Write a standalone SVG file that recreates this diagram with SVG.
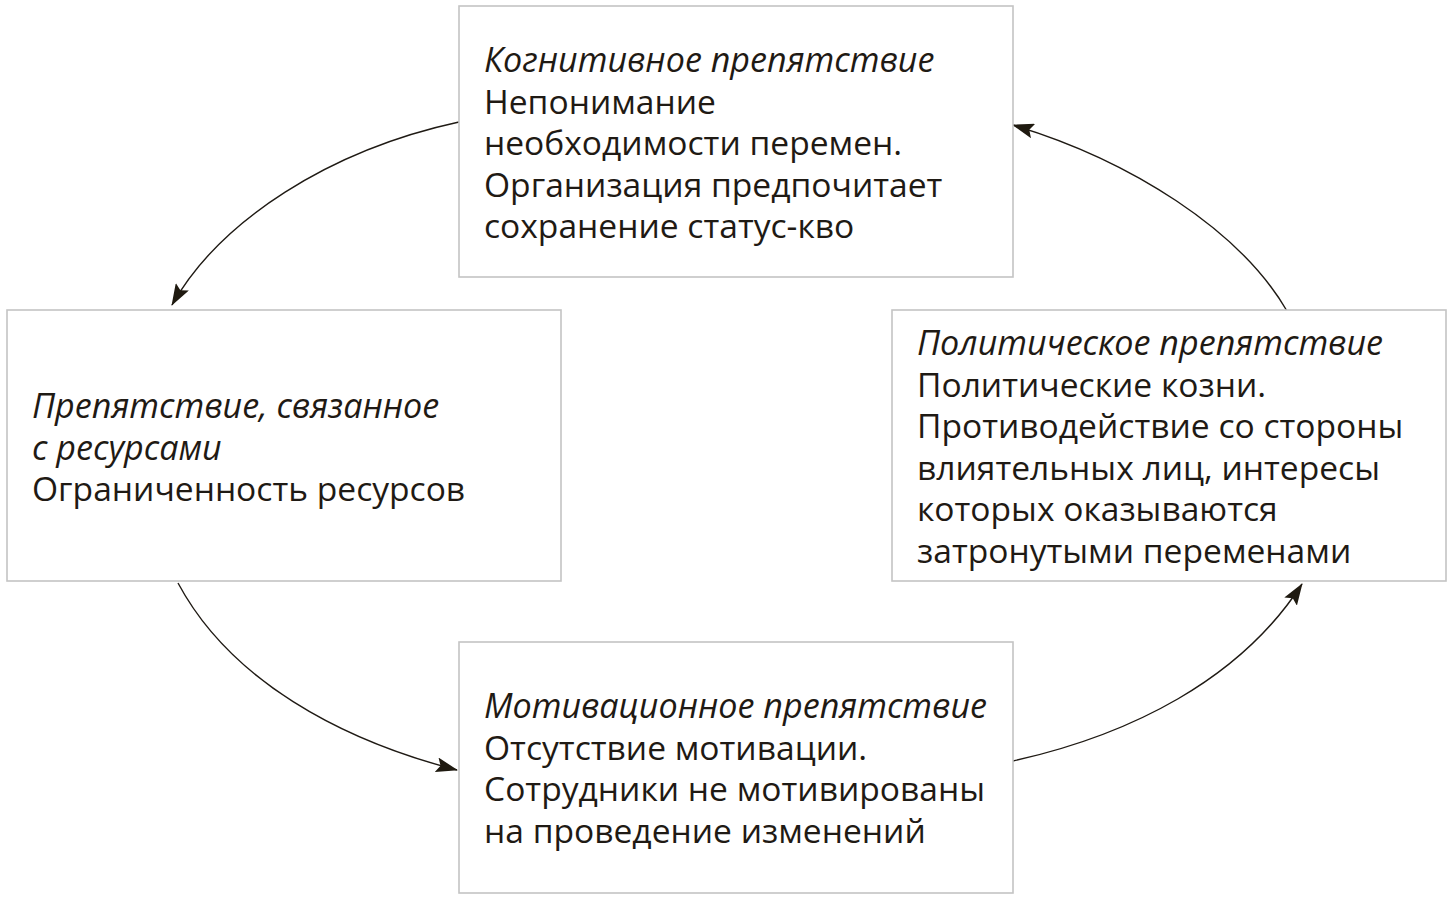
<svg xmlns="http://www.w3.org/2000/svg" width="1453" height="899" viewBox="0 0 1453 899">
<style>
.box{fill:#fff;stroke:#c4c4c4;stroke-width:1.6}
.t{font-family:"Open Sans","Noto Sans",sans-serif;font-size:33.6px;fill:#1f1a14}
.i{font-style:italic;font-size:34.1px}
.c{fill:none;stroke:#1f1a14;stroke-width:1.4}
</style>
<defs>
<marker id="ah" viewBox="0 0 22 15" refX="21" refY="7.5" markerWidth="22" markerHeight="15" markerUnits="userSpaceOnUse" orient="auto">
<path d="M0,0 L22,7.5 L0,15 L4,7.5 Z" fill="#1f1a10"/>
</marker>
</defs>
<rect width="1453" height="899" fill="#fff"/>
<g id="connectors">
<path class="c" d="M459,122 C330,150 220,220 172,305" marker-end="url(#ah)"/>
<path class="c" d="M1287,311 C1240,230 1130,160 1013,125" marker-end="url(#ah)"/>
<path class="c" d="M178,583 C230,680 340,740 457,770" marker-end="url(#ah)"/>
<path class="c" d="M1013,761 C1130,735 1240,680 1302,584" marker-end="url(#ah)"/>
</g>
<g id="cognitive">
<rect class="box" x="459" y="6" width="554" height="271"/>
<text class="t" x="484" y="72"><tspan class="i">Когнитивное препятствие</tspan><tspan x="484" dy="41.6">Непонимание</tspan><tspan x="484" dy="41.6">необходимости перемен.</tspan><tspan x="484" dy="41.6">Организация предпочитает</tspan><tspan x="484" dy="41.6">сохранение статус-кво</tspan></text>
</g>
<g id="resource">
<rect class="box" x="7" y="310" width="554" height="271"/>
<text class="t" x="32" y="418"><tspan class="i">Препятствие, связанное</tspan><tspan class="i" x="32" dy="41.6">с ресурсами</tspan><tspan x="32" dy="41.6">Ограниченность ресурсов</tspan></text>
</g>
<g id="political">
<rect class="box" x="892" y="310" width="554" height="271"/>
<text class="t" x="917" y="355"><tspan class="i">Политическое препятствие</tspan><tspan x="917" dy="41.6">Политические козни.</tspan><tspan x="917" dy="41.6">Противодействие со стороны</tspan><tspan x="917" dy="41.6">влиятельных лиц, интересы</tspan><tspan x="917" dy="41.6">которых оказываются</tspan><tspan x="917" dy="41.6">затронутыми переменами</tspan></text>
</g>
<g id="motivation">
<rect class="box" x="459" y="642" width="554" height="251"/>
<text class="t" x="484" y="718"><tspan class="i">Мотивационное препятствие</tspan><tspan x="484" dy="41.6">Отсутствие мотивации.</tspan><tspan x="484" dy="41.6">Сотрудники не мотивированы</tspan><tspan x="484" dy="41.6">на проведение изменений</tspan></text>
</g>
</svg>
